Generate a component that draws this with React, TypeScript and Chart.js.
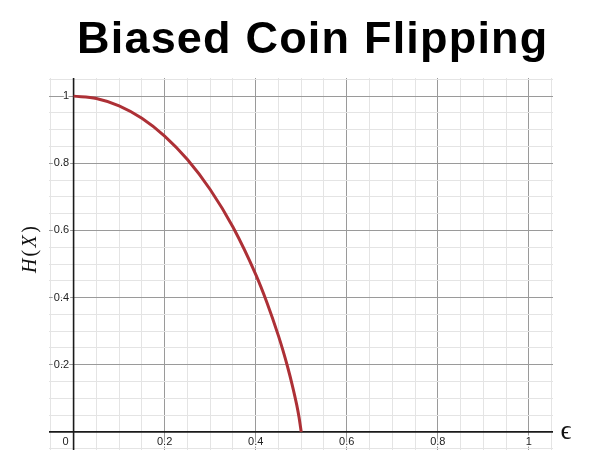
import React, { useEffect, useRef } from "react";
import { Chart, registerables } from "chart.js";

Chart.register(...registerables);

const epsilonValues = [0, 0.05, 0.1, 0.15, 0.2, 0.25, 0.3, 0.35, 0.4, 0.425, 0.45, 0.46, 0.47, 0.48, 0.49, 0.495, 0.5];
const entropyValues = [1, 0.993, 0.971, 0.934, 0.881, 0.811, 0.722, 0.61, 0.469, 0.384, 0.286, 0.242, 0.194, 0.141, 0.081, 0.045, 0];
const xTickLabels = ["0.2", "0.4", "0.6", "0.8", "1"];
const xTickValues = [0.2, 0.4, 0.6, 0.8, 1];
const yTickLabels = ["0.2", "0.4", "0.6", "0.8", "1"];
const yTickValues = [0.2, 0.4, 0.6, 0.8, 1];
const titleText = "Biased Coin Flipping";
const xAxisLabel = "\u03F5";
const yAxisLabelParts = [
  { t: "H", italic: true },
  { t: "(", italic: false },
  { t: "X", italic: true },
  { t: ")", italic: false },
];

function gridColor(ctx: any) {
  const v = ctx.tick ? ctx.tick.value : 0;
  const k = Math.round(v / 0.05);
  if (k % 4 === 0) return "#9a9a9a";
  return "#e4e4e4";
}

const labelPlugin = {
  id: "desmosLabels",
  beforeDatasetsDraw(chart: any) {
    const ctx = chart.ctx;
    const xs = chart.scales.x;
    const ys = chart.scales.y;
    const area = chart.chartArea;
    const x0 = xs.getPixelForValue(0);
    const y0 = ys.getPixelForValue(0);
    ctx.save();
    ctx.strokeStyle = "#1a1a1a";
    ctx.lineWidth = 1.6;
    ctx.beginPath();
    ctx.moveTo(area.left, y0);
    ctx.lineTo(area.right, y0);
    ctx.moveTo(x0, area.top);
    ctx.lineTo(x0, area.bottom);
    ctx.stroke();
    ctx.restore();
  },
  afterDraw(chart: any) {
    const ctx = chart.ctx;
    const xs = chart.scales.x;
    const ys = chart.scales.y;
    const x0 = xs.getPixelForValue(0);
    const y0 = ys.getPixelForValue(0);
    ctx.save();
    ctx.font = "11px 'Liberation Sans', Arial, sans-serif";
    ctx.fillStyle = "#222";
    ctx.strokeStyle = "#ffffff";
    ctx.lineWidth = 3;
    ctx.lineJoin = "round";
    ctx.textBaseline = "middle";
    ctx.textAlign = "center";
    xTickValues.forEach((v, i) => {
      const px = xs.getPixelForValue(v);
      ctx.strokeText(xTickLabels[i], px, y0 + 10);
      ctx.fillText(xTickLabels[i], px, y0 + 10);
    });
    ctx.textAlign = "right";
    yTickValues.forEach((v, i) => {
      const py = ys.getPixelForValue(v);
      ctx.strokeText(yTickLabels[i], x0 - 4.5, py);
      ctx.fillText(yTickLabels[i], x0 - 4.5, py);
    });
    ctx.strokeText("0", x0 - 5, y0 + 10);
    ctx.fillText("0", x0 - 5, y0 + 10);

    // x axis label
    ctx.fillStyle = "#111";
    ctx.textAlign = "center";
    ctx.textBaseline = "alphabetic";
    ctx.font = "27px 'Liberation Serif', 'DejaVu Serif', serif";
    ctx.fillText(xAxisLabel, 566, 438.5);

    // y axis label (rotated)
    ctx.save();
    ctx.translate(35.5, 273);
    ctx.rotate(-Math.PI / 2);
    ctx.textAlign = "left";
    let cx = 0;
    yAxisLabelParts.forEach((p, i) => {
      ctx.font = (p.italic ? "italic " : "") + "20px 'Liberation Serif', 'DejaVu Serif', serif";
      ctx.fillText(p.t, cx, 0);
      cx += ctx.measureText(p.t).width + (i === 0 ? 2 : 2.5);
    });
    ctx.restore();

    // title
    ctx.fillStyle = "#000";
    ctx.font = "bold 45px 'Liberation Sans', Arial, sans-serif";
    ctx.textAlign = "left";
    ctx.textBaseline = "alphabetic";
    try {
      (ctx as any).letterSpacing = "1.2px";
    } catch (e) {}
    ctx.fillText(titleText, 77, 53.3);
    ctx.restore();
  },
};

export default function App() {
  const ref = useRef<HTMLCanvasElement>(null);
  useEffect(() => {
    if (!ref.current) return;
    const chart = new Chart(ref.current, {
      type: "line",
      data: {
        datasets: [
          {
            data: epsilonValues.map((e, i) => ({ x: e, y: entropyValues[i] })),
            borderColor: "#ad3036",
            borderWidth: 3,
            pointRadius: 0,
            cubicInterpolationMode: "monotone",
            fill: false,
          },
        ],
      },
      options: {
        animation: false,
        responsive: false,
        maintainAspectRatio: false,
        layout: { padding: { left: 49, right: 37, top: 78, bottom: 19 } },
        plugins: { legend: { display: false }, tooltip: { enabled: false }, title: { display: false } },
        scales: {
          x: {
            type: "linear",
            min: -0.054,
            max: 1.053,
            border: { display: false },
            grid: { color: gridColor, lineWidth: 1, drawTicks: false },
            ticks: { display: false, stepSize: 0.05, includeBounds: false },
          },
          y: {
            type: "linear",
            min: -0.054,
            max: 1.054,
            border: { display: false },
            grid: { color: gridColor, lineWidth: 1, drawTicks: false },
            ticks: { display: false, stepSize: 0.05, includeBounds: false },
          },
        },
      },
      plugins: [labelPlugin],
    } as any);
    return () => chart.destroy();
  }, []);
  return (
    <div style={{ position: "fixed", left: 0, top: 0, width: 590, height: 469, background: "#fff" }}>
      <canvas ref={ref} width={590} height={469} style={{ width: 590, height: 469 }} />
    </div>
  );
}
